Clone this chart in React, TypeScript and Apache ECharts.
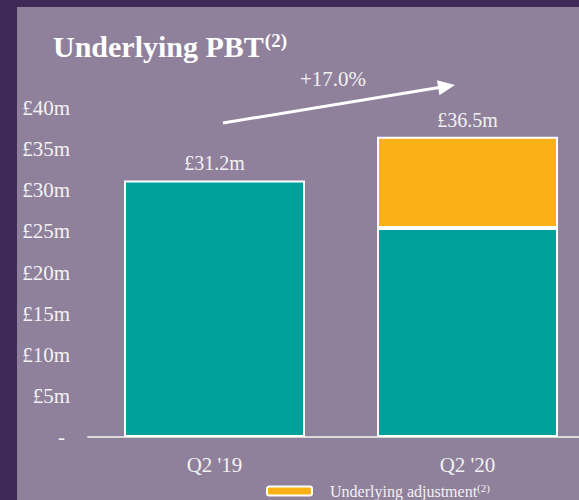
import React, { useEffect, useRef } from "react";
import * as echarts from "echarts";

const categories = ["Q2 '19", "Q2 '20"];
const underlying = [31.2, 25.4];
const adjustment = [null, 11.1];
const totals = [31.2, 36.5];
const growthLabel = "+17.0%";

const FONT = "'Liberation Serif', 'Times New Roman', serif";
const TEAL = "#00a19b";
const ORANGE = "#fbb116";
const TXT = "#f2f2f2";

export default function App() {
  const ref = useRef<HTMLDivElement>(null);
  useEffect(() => {
    if (!ref.current) return;
    const chart = echarts.init(ref.current, null, { renderer: "svg" });
    const topLabel = (i: number) => ({
      show: true,
      position: "top",
      distance: 7,
      formatter: "£" + totals[i].toFixed(1) + "m",
      color: TXT,
      fontSize: 20,
      fontFamily: FONT,
    });
    chart.setOption({
      animation: false,
      backgroundColor: "transparent",
      textStyle: { fontFamily: FONT },
      title: {
        left: 36,
        top: 24,
        padding: 0,
        text: "{a|Underlying PBT}{b|(2)}",
        textStyle: {
          rich: {
            a: { fontSize: 30, fontWeight: "bold", color: "#ffffff", fontFamily: FONT },
            b: { fontSize: 19, fontWeight: "bold", color: "#ffffff", fontFamily: FONT, padding: [0, 0, 11, 1] },
          },
        },
      },
      legend: {
        data: ["Underlying adjustment"],
        left: 249,
        top: 475,
        padding: 0,
        itemWidth: 45,
        itemHeight: 9,
        formatter: () => "{a|Underlying adjustment}{b|(2)}",
        textStyle: {
          padding: [0, 0, 0, 13],
          rich: {
            a: { fontSize: 16, color: TXT, fontFamily: FONT },
            b: { fontSize: 11, color: TXT, fontFamily: FONT, padding: [0, 0, 7, 0] },
          },
        },
      },
      grid: { left: 71, right: 0, top: 101, bottom: 63 },
      xAxis: {
        type: "category",
        data: categories,
        axisLine: { show: true, lineStyle: { color: "#d9d9d9", width: 2 } },
        axisTick: { show: false },
        axisLabel: { color: TXT, fontSize: 21, fontFamily: FONT, margin: 17 },
      },
      yAxis: {
        type: "value",
        min: 0,
        max: 40,
        interval: 5,
        splitLine: { show: false },
        axisLine: { show: false },
        axisTick: { show: false },
        axisLabel: {
          color: TXT,
          fontSize: 21,
          fontFamily: FONT,
          margin: 18,
          formatter: (v: number) => (v === 0 ? "{d|-}" : "£" + v + "m"),
          rich: { d: { fontSize: 21, color: TXT, fontFamily: FONT, padding: [0, 5, 0, 0] } },
        },
      },
      series: [
        {
          name: "Underlying",
          type: "bar",
          stack: "pbt",
          barWidth: 181,
          itemStyle: { color: TEAL, borderColor: "#ffffff", borderWidth: 2 },
          data: underlying.map((v, i) =>
            adjustment[i] == null ? { value: v, label: topLabel(i) } : v
          ),
        },
        {
          name: "Underlying adjustment",
          type: "bar",
          stack: "pbt",
          barWidth: 181,
          itemStyle: { color: ORANGE, borderColor: "#ffffff", borderWidth: 2 },
          data: adjustment.map((v, i) =>
            v == null ? "-" : { value: v, label: topLabel(i) }
          ),
        },
      ],
      graphic: [
        {
          type: "line",
          shape: { x1: 206, y1: 116, x2: 422, y2: 80.6 },
          style: { stroke: "#ffffff", lineWidth: 3 },
        },
        {
          type: "polygon",
          shape: { points: [[438, 78], [422.4, 88.2], [420, 73.3]] },
          style: { fill: "#ffffff" },
        },
        {
          type: "text",
          x: 316,
          y: 72,
          style: {
            text: growthLabel,
            fill: TXT,
            fontSize: 21,
            fontFamily: FONT,
            align: "center",
            verticalAlign: "middle",
          },
        },
      ],
    });
    return () => chart.dispose();
  }, []);
  return (
    <div style={{ position: "fixed", left: 0, top: 0, width: 579, height: 500, background: "#3d2a56", overflow: "hidden" }}>
      <div
        ref={ref}
        style={{ position: "absolute", left: 17, top: 7, width: 577, height: 493, background: "#8f809b" }}
      />
    </div>
  );
}
